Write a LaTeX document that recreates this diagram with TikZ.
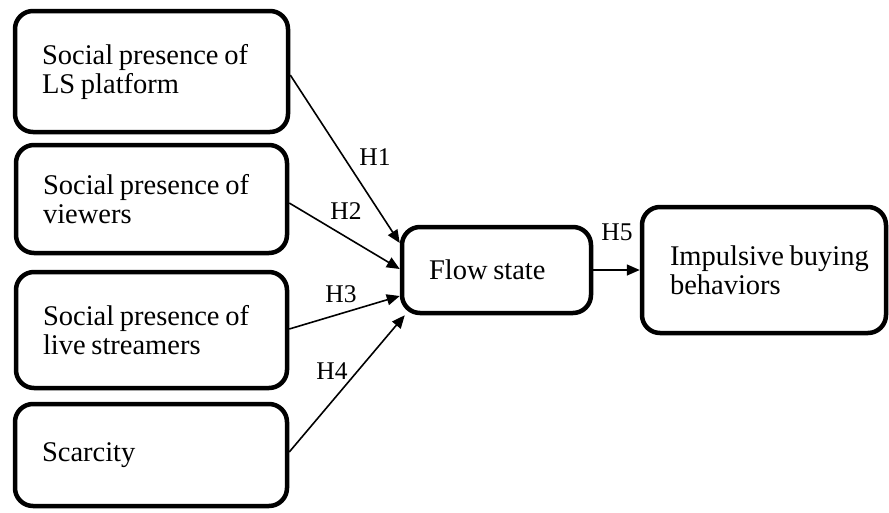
\documentclass[tikz,border=0pt]{standalone}
\usepackage{fontspec}
\setmainfont{Liberation Serif}
\usetikzlibrary{arrows.meta,calc}
\newcommand\tsp{\spaceskip=0.2em plus 0.05em\relax}
\begin{document}
\begin{tikzpicture}[x=1pt,y=-1pt,
  box/.style={draw, line width=4.5pt, rounded corners=18pt, inner xsep=27pt, inner ysep=0pt, align=left, font=\fontsize{28.5}{29}\selectfont, execute at begin node=\tsp},
  conn/.style={line width=1.6pt, -{Triangle[length=13pt,width=11pt]}},
  hlab/.style={font=\fontsize{25.5}{28}\selectfont, inner sep=0pt}]
\useasboundingbox (0,0) rectangle (889,512);
\node[box, minimum width=273pt, minimum height=121pt, text width=219pt] (b1) at (151.5,71.5) {Social presence of\\LS platform};
\node[box, minimum width=271pt, minimum height=108pt, text width=217pt] (b2) at (151.5,199) {Social presence of\\viewers};
\node[box, minimum width=271pt, minimum height=116pt, text width=217pt] (b3) at (151.5,330) {Social presence of\\live streamers};
\node[box, minimum width=272pt, minimum height=102pt, text width=218pt] (b4) at (151,455) {Scarcity};
\node[box, minimum width=189pt, minimum height=86pt, text width=135pt] (flow) at (496.5,270) {Flow state};
\node[box, inner xsep=28pt, minimum width=244pt, minimum height=126pt, text width=188pt] (imp) at (764,270) {\mbox{Impulsive buying}\\behaviors};
\node[hlab] (h1) at (375,157) {H1};
\node[hlab] (h2) at (346,211) {H2};
\node[hlab] (h3) at (341,294) {H3};
\node[hlab] (h4) at (332,371) {H4};
\node[hlab] (h5) at (617,232) {H5};
\draw[conn] ([yshift=-3.5pt]b1.east) -- ([yshift=27pt]flow.west);
\draw[conn] ([yshift=-4pt]b2.east) -- ([yshift=1pt]flow.west);
\draw[conn] ([yshift=1pt]b3.east) -- ([yshift=-26pt]flow.west);
\draw[conn] ([yshift=3pt]b4.east) -- ([xshift=5pt]flow.south west);
\draw[conn] (flow.east) -- (imp.west);
\end{tikzpicture}
\end{document}
